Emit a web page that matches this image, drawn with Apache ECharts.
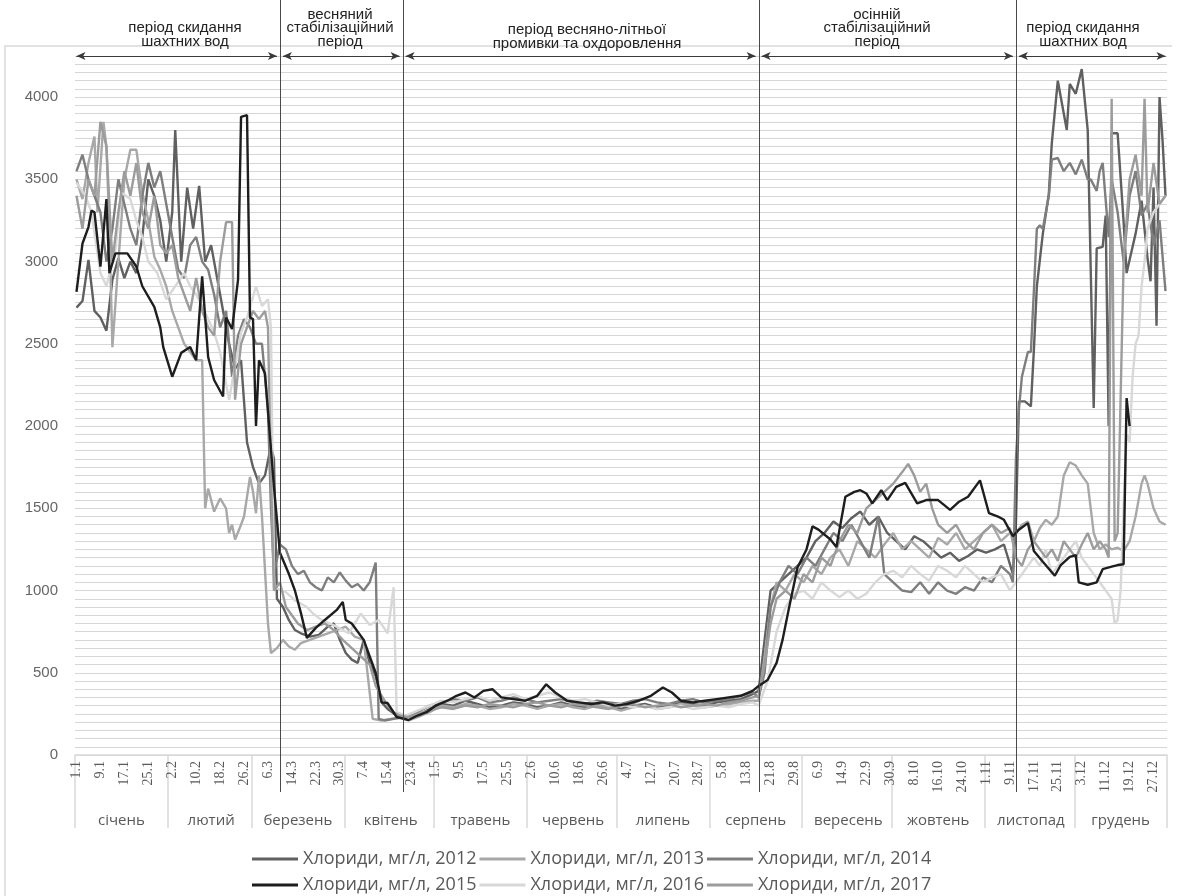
<!DOCTYPE html>
<html><head><meta charset="utf-8">
<script src="https://cdn.jsdelivr.net/npm/echarts@6/dist/echarts.min.js"></script>
<style>html,body{margin:0;padding:0;background:#fff}#c{width:1180px;height:896px}</style>
</head><body><div id="c"></div>
<script>
const monthNames = ['січень','лютий','березень','квітень','травень','червень','липень','серпень','вересень','жовтень','листопад','грудень'];
const monthDays = [31,28,31,30,31,30,31,31,30,31,30,31];
const seriesNames = ['Хлориди, мг/л, 2012','Хлориди, мг/л, 2013','Хлориди, мг/л, 2014','Хлориди, мг/л, 2015','Хлориди, мг/л, 2016','Хлориди, мг/л, 2017'];
const seriesColors = ['#606060','#a8a8a8','#7e7e7e','#1e1e1e','#d8d8d8','#9c9c9c'];
const periodTexts = ['період скидання\nшахтних вод','весняний\nстабілізаційний\nперіод','період весняно-літньої\nпромивки та охдоровлення','осінній\nстабілізаційний\nперіод','період скидання\nшахтних вод'];
const periodBoundaries = [68, 109, 228, 314];

// [day index from 1 Jan, value mg/l]
const s2012 = [[0,2720],[2,2760],[4,3010],[6,2700],[8,2660],[10,2580],[12,2890],[14,3020],[16,2900],[18,3000],[20,2930],[22,3150],[24,3500],[26,3400],[28,3250],[30,3000],[32,3300],[33,3800],[35,3000],[37,3450],[39,3200],[41,3460],[43,3000],[45,3100],[47,2900],[49,2700],[51,2500],[53,2350],[55,2400],[57,1900],[59,1750],[61,1650],[63,1700],[65,1880],[66,1800],[67,950],
[69,900],[71,820],[73,760],[75,740],[78,720],[81,730],[84,780],[86,800],[88,700],[90,620],[92,580],[94,560],[96,700],[98,560],[100,480],[102,320],[104,280],[107,240],[110,230],
[114,240],[118,280],[122,310],[126,300],[130,330],[134,310],[138,290],[142,300],[146,320],[150,310],[154,290],[158,300],[162,320],[166,300],[170,290],[174,310],[178,300],[182,280],[186,300],[190,310],[194,290],[198,300],[202,320],[206,310],[210,300],[214,320],[218,330],[222,340],[226,370],
[228,390],[230,700],[232,1000],[235,1050],[238,1100],[241,1150],[244,1200],[247,1300],[250,1350],[253,1420],[256,1380],[259,1440],[262,1480],[265,1400],[268,1450],[271,1350],[274,1300],[277,1250],[280,1330],[283,1300],[286,1250],[289,1200],[292,1230],[295,1180],[298,1210],[301,1250],[304,1230],[307,1250],[310,1280],[313,1100],
[314,1400],[315,2150],[317,2150],[319,2120],[320,2460],[321,2850],[323,3170],[325,3410],[326,3720],[328,4100],[331,3800],[332,4080],[334,4020],[336,4170],[338,3800],[340,2110],[341,3080],[343,3090],[344,3280],[345,2000],[346,3780],[348,3780],[350,3240],[351,2930],[354,3170],[356,3370],[358,3020],[359,2880],[360,3450],[361,2610],[362,4000],[363,3740],[364,3400]];

const s2013 = [[0,3500],[2,3380],[4,3600],[6,3760],[7,3300],[9,3850],[10,3700],[11,3200],[12,2480],[14,3000],[16,3500],[18,3680],[20,3680],[22,3420],[24,3250],[26,3030],[28,2950],[30,2850],[32,2700],[34,2600],[36,2500],[38,2450],[40,2400],[42,2400],[43,1500],[44,1620],[46,1480],[48,1560],[50,1500],[51,1350],[52,1400],[53,1310],[55,1400],[56,1450],[58,1690],[59,1600],[60,1470],[61,1700],[62,1450],[64,800],[65,620],[67,650],[69,700],[71,660],[73,640],[75,680],[78,700],[81,720],[84,740],[87,760],[90,780],[93,720],[96,700],[99,220],[102,210],[105,220],[108,230],
[111,210],[114,230],[118,260],[122,300],[126,290],[130,310],[134,300],[138,280],[142,290],[146,310],[150,300],[154,280],[158,300],[162,310],[166,290],[170,280],[174,300],[178,290],[182,270],[186,290],[190,300],[194,280],[198,290],[202,310],[206,300],[210,290],[214,300],[218,310],[222,320],[226,330],
[228,330],[230,600],[232,900],[234,1050],[237,1000],[240,1100],[243,1050],[246,1150],[249,1100],[252,1200],[255,1250],[258,1150],[261,1300],[264,1250],[267,1200],[270,1280],[273,1350],[276,1250],[279,1300],[282,1250],[285,1200],[288,1320],[291,1280],[294,1350],[297,1250],[300,1300],[303,1350],[306,1400],[309,1300],[312,1350],
[314,1350],[316,1400],[318,1420],[320,1300],[322,1380],[324,1430],[326,1400],[328,1450],[330,1700],[332,1780],[334,1760],[336,1700],[338,1650],[340,1350],[342,1250],[344,1280],[346,1250],[348,1260],[350,1240],[352,1300],[354,1450],[356,1650],[357,1700],[358,1650],[360,1500],[362,1420],[364,1400]];

const s2014 = [[0,3550],[2,3650],[4,3500],[6,3400],[8,3300],[10,3000],[12,3200],[14,3500],[16,3350],[18,3200],[20,3100],[22,3400],[24,3600],[26,3450],[28,3550],[30,3350],[32,3150],[34,2950],[36,2900],[38,3100],[40,3150],[42,3000],[44,2950],[46,2800],[48,2600],[50,2700],[52,2300],[54,2550],[56,2650],[58,2600],[60,2500],[62,2500],[64,2100],[65,1500],[66,1100],[68,1280],[70,1250],[72,1150],[74,1100],[76,1120],[78,1050],[80,1020],[82,1000],[84,1080],[86,1050],[88,1110],[90,1060],[92,1020],[94,1040],[96,1000],[98,1050],[100,1170],[101,220],[103,210],[106,220],[110,230],
[114,260],[118,300],[122,320],[126,340],[130,330],[134,350],[138,320],[142,330],[146,350],[150,340],[154,320],[158,330],[162,340],[166,320],[170,310],[174,330],[178,320],[182,310],[186,330],[190,340],[194,320],[198,310],[202,330],[206,340],[210,320],[214,330],[218,340],[222,360],[226,380],
[228,350],[230,500],[232,900],[235,1050],[238,1150],[241,1100],[244,1200],[247,1150],[250,1250],[253,1350],[256,1300],[259,1400],[262,1300],[265,1200],[268,1450],[270,1100],[273,1050],[276,1000],[279,990],[282,1050],[285,980],[288,1050],[291,1000],[294,980],[297,1020],[300,1000],[303,1080],[306,1050],[309,1150],[312,1100],[313,1050],
[314,1800],[315,2100],[316,2300],[318,2450],[319,2450],[320,2820],[321,3200],[322,3220],[323,3200],[325,3400],[326,3620],[328,3630],[330,3550],[332,3600],[334,3530],[336,3620],[338,3500],[339,3500],[341,3430],[342,3550],[343,3600],[345,3150],[346,3500],[348,3300],[350,3000],[352,3400],[354,3550],[356,3280],[358,3350],[360,3100],[362,3250],[364,2820]];

const s2015 = [[0,2816],[2,3110],[4,3210],[5,3310],[6,3300],[8,2970],[10,3380],[11,2930],[13,3050],[17,3050],[20,2970],[22,2850],[26,2725],[28,2600],[29,2480],[32,2300],[35,2445],[38,2480],[40,2400],[42,2910],[44,2420],[46,2280],[49,2180],[50,2660],[52,2590],[54,2890],[55,3880],[57,3890],[58,2660],[59,2650],[60,2000],[61,2400],[63,2320],[66,1630],[68,1230],[71,1100],[73,1000],[75,864],[77,712],[80,773],[83,821],[87,882],[89,931],[90,821],[92,800],[96,700],[100,500],[102,320],[104,316],[107,231],[111,213],
[114,240],[117,260],[120,300],[124,330],[127,360],[130,380],[133,350],[136,390],[139,400],[142,350],[146,340],[150,330],[154,360],[157,430],[160,380],[164,330],[168,320],[172,310],[176,320],[180,300],[184,310],[188,330],[192,360],[196,410],[199,380],[202,330],[206,320],[210,330],[214,340],[218,350],[222,360],[226,390],
[228,420],[231,456],[234,560],[236,700],[238,880],[241,1140],[244,1250],[246,1390],[248,1370],[252,1310],[254,1265],[257,1570],[260,1600],[262,1610],[264,1590],[266,1530],[269,1610],[271,1550],[274,1630],[277,1655],[281,1530],[284,1550],[288,1550],[292,1490],[295,1540],[298,1570],[302,1670],[305,1470],[308,1450],[310,1430],[313,1330],[315,1370],[318,1410],[320,1240],[323,1175],[327,1090],[329,1155],[332,1205],[334,1215],[335,1050],[338,1035],[341,1050],[343,1130],[346,1145],[348,1155],[350,1160],[351,2170],[352,2000]];

const s2016 = [[0,3480],[3,3400],[5,3300],[8,2930],[10,2850],[13,3070],[15,3420],[18,3380],[20,3250],[22,3150],[24,3000],[27,2930],[30,2770],[33,2850],[36,2930],[38,2850],[40,2800],[43,2690],[46,2570],[48,2450],[51,2160],[55,2570],[57,2660],[60,2850],[62,2730],[64,2770],[65,2600],[66,1020],[70,990],[73,940],[77,900],[79,860],[82,820],[87,780],[91,740],[95,860],[98,790],[101,820],[104,740],[106,1020],[107,260],[110,240],
[114,270],[118,300],[122,330],[126,320],[130,340],[134,360],[138,330],[142,350],[146,370],[150,340],[154,360],[158,380],[162,350],[166,330],[170,340],[174,320],[178,300],[182,310],[186,290],[190,300],[194,280],[198,290],[202,300],[206,280],[210,290],[214,300],[218,290],[222,310],[226,320],
[228,300],[231,450],[234,750],[237,900],[240,980],[243,1000],[246,950],[249,1050],[252,1000],[255,960],[258,1000],[261,950],[264,980],[267,1050],[270,1100],[273,1120],[276,1080],[279,1150],[282,1100],[285,1060],[288,1150],[291,1120],[294,1080],[297,1150],[300,1100],[303,1050],[306,1080],[309,1100],[312,1000],
[314,1050],[316,1100],[318,1150],[320,1200],[322,1150],[324,1250],[326,1100],[328,1150],[330,1200],[332,1250],[334,1300],[336,1200],[338,1150],[340,1100],[342,1050],[344,1000],[346,950],[347,800],[348,820],[349,1000],[350,1500],[351,1950],[352,1900],[353,2300],[354,2500],[355,2550],[356,2850],[357,3000],[358,3200],[359,3250],[360,3300],[362,3350],[364,3400]];

const s2017 = [[0,3400],[2,3200],[4,3500],[6,3400],[8,3850],[10,3700],[12,3000],[14,3300],[16,3550],[18,3400],[20,3600],[22,3300],[24,3200],[26,3400],[28,3100],[30,3050],[32,3100],[34,2900],[36,2800],[38,2700],[40,2900],[42,2700],[44,2600],[46,2550],[48,3000],[50,3240],[52,3240],[53,2160],[55,2500],[57,2600],[59,2700],[61,2650],[63,2700],[64,2600],[65,1700],[66,1000],[68,1050],[70,900],[72,850],[74,800],[77,760],[80,780],[83,800],[86,760],[89,700],[92,650],[95,600],[98,550],[100,420],[102,360],[104,300],[106,260],[108,240],
[111,230],[114,250],[118,270],[122,290],[126,280],[130,300],[134,290],[138,310],[142,300],[146,290],[150,310],[154,320],[158,300],[162,290],[166,310],[170,300],[174,290],[178,280],[182,300],[186,310],[190,290],[194,300],[198,310],[202,290],[206,300],[210,310],[214,300],[218,320],[222,330],[226,350],
[228,360],[230,550],[232,800],[234,950],[237,1000],[240,950],[243,1100],[246,1050],[249,1200],[252,1150],[255,1300],[258,1400],[261,1350],[264,1500],[267,1550],[270,1600],[273,1650],[276,1720],[278,1770],[280,1700],[282,1600],[284,1650],[286,1500],[288,1400],[291,1350],[294,1400],[297,1300],[300,1250],[303,1350],[306,1400],[309,1350],[312,1380],
[314,1200],[316,1150],[318,1250],[320,1300],[322,1250],[324,1200],[326,1250],[328,1180],[330,1300],[332,1250],[334,1200],[336,1280],[338,1350],[340,1250],[342,1300],[344,1250],[345,1200],[346,3990],[347,1300],[348,1350],[350,3000],[352,3500],[354,3650],[356,3400],[357,3990],[358,3300],[360,3600],[362,3350],[364,3400]];

const seriesData = [s2012, s2013, s2014, s2015, s2016, s2017];

// day labels d.m
const dayLabels = [];
const monthStart = new Set();
const monthCenter = {};
let idx = 0;
monthDays.forEach((n, m) => {
  monthStart.add(idx);
  monthCenter[idx + Math.floor(n / 2)] = monthNames[m];
  for (let d = 1; d <= n; d++) { dayLabels.push(d + '.' + (m + 1)); idx++; }
});

const chart = echarts.init(document.getElementById('c'));
const gridTop = 56, gridBottom = 141;

const series = seriesNames.map((name, i) => ({
  name, type: 'line', data: seriesData[i], symbol: 'none', showSymbol: false,
  lineStyle: { width: 2.4, color: seriesColors[i] }, itemStyle: { color: seriesColors[i] },
  z: i === 3 ? 4 : 3, animation: false
}));
// period arrows on the top grid line
series[0].markLine = {
  silent: true, symbol: ['arrow', 'arrow'], symbolSize: [6, 9], animation: false,
  label: { show: false },
  lineStyle: { color: '#3a3a3a', width: 1, type: 'solid' },
  data: [
    [{ coord: [0, 4250] }, { coord: [67, 4250] }],
    [{ coord: [69, 4250] }, { coord: [108, 4250] }],
    [{ coord: [110, 4250] }, { coord: [227, 4250] }],
    [{ coord: [229, 4250] }, { coord: [313, 4250] }],
    [{ coord: [315, 4250] }, { coord: [364, 4250] }]
  ]
};

const legendCommon = {
  left: 247, itemWidth: 46, itemHeight: 3, itemGap: 3, icon: 'rect',
  textStyle: { fontSize: 18, color: '#595959', fontFamily: 'Open Sans' }
};

chart.setOption({
  animation: false,
  backgroundColor: '#fff',
  grid: { left: 75, right: 13, top: gridTop, bottom: gridBottom },
  xAxis: [{
    type: 'category', data: dayLabels, boundaryGap: true,
    axisLine: { show: true, lineStyle: { color: '#d9d9d9', width: 1.5 } },
    axisTick: { show: true, interval: (i) => monthStart.has(i), length: 73, lineStyle: { color: '#d9d9d9', width: 1.5 } },
    axisLabel: { interval: 7, rotate: 90, margin: 6, fontSize: 14, color: '#595959', fontFamily: 'Liberation Serif' }
  }, {
    type: 'category', data: dayLabels, boundaryGap: true, position: 'bottom', offset: 50,
    axisLine: { show: false }, axisTick: { show: false },
    axisLabel: { interval: (i) => monthCenter[i] !== undefined, formatter: (v, i) => monthCenter[i] || '', fontSize: 15, color: '#595959', fontFamily: 'Open Sans', margin: 8 }
  }],
  yAxis: {
    type: 'value', min: 0, max: 4250, interval: 50,
    axisLine: { show: false }, axisTick: { show: false },
    axisLabel: { formatter: (v) => (v % 500 === 0 ? String(v) : ''), fontSize: 15, color: '#666', fontFamily: 'Liberation Sans', margin: 17 },
    splitLine: { show: true, lineStyle: { color: '#d6d6d6', width: 1 } }
  },
  legend: [
    Object.assign({ data: seriesNames.slice(0, 3), top: 845 }, legendCommon),
    Object.assign({ data: seriesNames.slice(3), top: 871 }, legendCommon)
  ],
  series
});

// vertical period lines, frame and period captions
const g = [];
g.push({ type: 'polyline', silent: true, shape: { points: [[5, 900], [5, 46], [1172, 46]] }, style: { stroke: '#d9d9d9', lineWidth: 1.5, fill: null }, z: 0 });
periodBoundaries.forEach((d) => {
  const x = Math.round(chart.convertToPixel({ xAxisIndex: 0 }, d)) + 0.5;
  g.push({ type: 'line', silent: true, shape: { x1: x, y1: 0, x2: x, y2: 792 }, style: { stroke: '#4a4a4a', lineWidth: 1 }, z: 100 });
});
const captionPos = [[185, 35], [340, 28], [587, 37], [877, 28], [1083, 35]];
periodTexts.forEach((t, i) => {
  g.push({ type: 'text', silent: true, x: captionPos[i][0], y: captionPos[i][1], z: 100,
    style: { text: t, align: 'center', verticalAlign: 'middle', font: '15px "Liberation Sans"', lineHeight: 13.5, fill: '#222' } });
});
chart.setOption({ graphic: g });
</script></body></html>
